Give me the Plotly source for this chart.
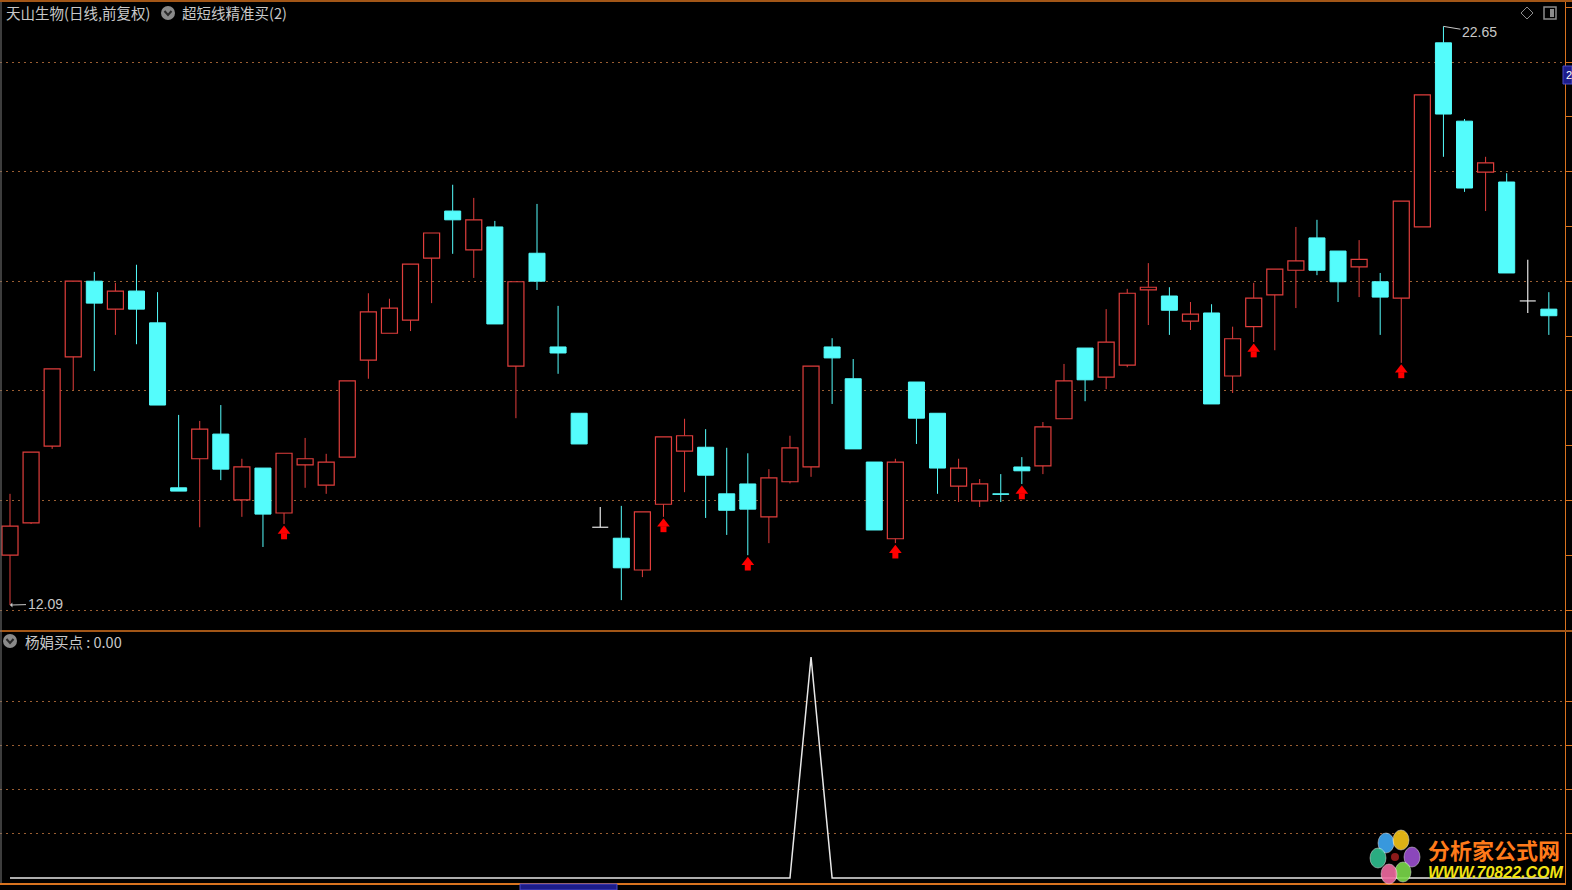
import plotly.graph_objects as go

# ---------------- data ----------------
opens = [13.00, 13.59, 14.99, 16.62, 18.00, 17.49, 17.82, 17.24, 14.23, 14.76,
         15.21, 14.01, 14.59, 13.77, 14.65, 14.28, 14.79, 16.56, 17.05, 17.29,
         18.42, 19.28, 18.57, 18.99, 16.45, 18.51, 16.80, 15.59, 13.51, 13.31,
         12.73, 13.93, 14.90, 14.97, 14.12, 14.30, 13.70, 14.34, 14.61, 16.80,
         16.22, 14.70, 13.30, 16.16, 15.59, 14.26, 13.99, 14.12, 14.61, 14.63,
         15.49, 16.78, 16.25, 16.47, 17.84, 17.73, 17.27, 17.42, 16.27, 17.17,
         17.75, 18.20, 18.79, 18.55, 18.26, 17.99, 17.69, 18.99, 22.35, 20.92,
         19.99, 19.81, 17.64, 17.49]
closes = [13.53, 14.88, 16.40, 18.00, 17.60, 17.82, 17.49, 15.74, 14.17, 15.30,
          14.57, 14.61, 13.75, 14.86, 14.76, 14.70, 16.18, 17.44, 17.51, 18.31,
          18.88, 19.12, 19.12, 17.22, 17.99, 18.00, 16.69, 15.03, 13.51, 12.77,
          13.79, 15.16, 15.18, 14.46, 13.82, 13.84, 14.41, 14.96, 16.45, 16.60,
          14.94, 13.46, 14.70, 15.50, 14.59, 14.59, 14.30, 14.11, 14.54, 15.34,
          16.18, 16.20, 16.89, 17.78, 17.89, 17.47, 17.40, 15.76, 16.95, 17.69,
          18.22, 18.37, 18.20, 17.99, 18.40, 17.71, 19.46, 21.40, 21.05, 19.70,
          20.16, 18.15, 17.64, 17.37]
highs = [14.12, 14.88, 16.40, 18.00, 18.17, 17.97, 18.30, 17.80, 15.56, 15.45,
         15.74, 14.76, 14.59, 14.86, 15.14, 14.85, 16.18, 17.78, 17.68, 18.31,
         18.88, 19.76, 19.52, 19.10, 17.99, 19.41, 17.55, 15.59, 13.88, 13.90,
         13.79, 15.16, 15.49, 15.30, 14.96, 14.86, 14.57, 15.18, 16.45, 16.96,
         16.58, 14.70, 14.76, 16.16, 15.59, 14.76, 14.39, 14.48, 14.79, 15.43,
         16.49, 16.78, 17.49, 17.86, 18.33, 17.89, 17.62, 17.58, 17.17, 17.97,
         18.22, 18.99, 19.12, 18.55, 18.75, 18.15, 19.46, 21.40, 22.65, 20.96,
         20.27, 19.97, 18.39, 17.80]
lows = [12.09, 13.57, 14.94, 16.01, 16.36, 17.02, 16.85, 15.74, 14.17, 13.51,
        14.37, 13.70, 13.15, 13.57, 14.23, 14.12, 14.79, 16.22, 17.05, 17.09,
        17.60, 18.50, 18.06, 17.22, 15.50, 17.84, 16.31, 15.03, 13.51, 12.18,
        12.60, 13.70, 14.15, 13.68, 13.37, 13.00, 13.22, 14.31, 14.43, 15.76,
        14.94, 13.46, 13.22, 15.03, 14.12, 13.97, 13.88, 13.97, 14.30, 14.48,
        15.49, 15.81, 16.03, 16.43, 17.20, 17.02, 17.11, 15.76, 15.96, 16.89,
        16.74, 17.51, 18.11, 17.62, 17.71, 17.02, 16.51, 18.99, 20.27, 19.63,
        19.28, 18.15, 17.42, 17.02]
buy_arrow_idx = [13, 31, 35, 42, 48, 59, 66]
signal = [0, 0, 0, 0, 0, 0, 0, 0, 0, 0,
          0, 0, 0, 0, 0, 0, 0, 0, 0, 0,
          0, 0, 0, 0, 0, 0, 0, 0, 0, 0,
          0, 0, 0, 0, 0, 0, 0, 0, 1, 0,
          0, 0, 0, 0, 0, 0, 0, 0, 0, 0,
          0, 0, 0, 0, 0, 0, 0, 0, 0, 0,
          0, 0, 0, 0, 0, 0, 0, 0, 0, 0,
          0, 0, 0, 0]
title_main = "天山生物(日线,前复权)"
title_ind = "超短线精准买(2)"
title_sub = "杨娟买点 : 0.00"
label_high = "22.65"
label_low = "12.09"

# ---------------- style ----------------
W, H = 1572, 890
RED = "#E03E3C"
CYAN = "#54FCFC"
WHITE = "#E6E6E6"
ORANGE = "#D9731F"
GRID = "#9A5E32"
TXT = "#C8C8C8"
BODY_W = 0.76


def px(x):
    return x / W


def py(y):
    return 1 - y / H


n = len(opens)
idx = list(range(n))
up = [i for i in idx if closes[i] > opens[i]]
dn = [i for i in idx if closes[i] < opens[i]]
dj = [i for i in idx if closes[i] == opens[i]]


def wicks(ids):
    xs, ys = [], []
    for i in ids:
        top = max(opens[i], closes[i])
        bot = min(opens[i], closes[i])
        if highs[i] > top:
            xs += [i, i, None]
            ys += [top, highs[i], None]
        if lows[i] < bot:
            xs += [i, i, None]
            ys += [lows[i], bot, None]
    return xs, ys


fig = go.Figure()

for ids, col in ((up, RED), (dn, CYAN)):
    wx, wy = wicks(ids)
    fig.add_trace(go.Scatter(x=wx, y=wy, mode="lines",
                             line=dict(color=col, width=1),
                             xaxis="x", yaxis="y"))

fig.add_trace(go.Bar(x=up, y=[closes[i] - opens[i] for i in up],
                     base=[opens[i] for i in up], width=BODY_W,
                     marker=dict(color="black", line=dict(color=RED, width=1.2)),
                     xaxis="x", yaxis="y"))
fig.add_trace(go.Bar(x=dn, y=[opens[i] - closes[i] for i in dn],
                     base=[closes[i] for i in dn], width=BODY_W,
                     marker=dict(color=CYAN, line=dict(color=CYAN, width=1)),
                     xaxis="x", yaxis="y"))

# doji candles (open == close)
dx, dy = [], []
for i in dj:
    dx += [i, i, None, i - BODY_W / 2, i + BODY_W / 2, None]
    dy += [lows[i], highs[i], None, opens[i], opens[i], None]
fig.add_trace(go.Scatter(x=dx, y=dy, mode="lines",
                         line=dict(color=WHITE, width=1.2),
                         xaxis="x", yaxis="y"))

# buy arrows
fig.add_trace(go.Scatter(x=buy_arrow_idx, y=[lows[i] - 0.128 for i in buy_arrow_idx],
                         mode="markers",
                         marker=dict(symbol="triangle-up", size=11, color="#FF0000"),
                         xaxis="x", yaxis="y"))
fig.add_trace(go.Scatter(x=buy_arrow_idx, y=[lows[i] - 0.225 for i in buy_arrow_idx],
                         mode="markers",
                         marker=dict(symbol="square", size=6, color="#FF0000"),
                         xaxis="x", yaxis="y"))

# indicator panel
fig.add_trace(go.Scatter(x=idx, y=signal, mode="lines",
                         line=dict(color="#E8E8E8", width=1.5),
                         xaxis="x2", yaxis="y2"))

# ---------------- axes ----------------
xr = [(0 - 10) / 21.08, (1565 - 10) / 21.08]
xdom = [0, 1565 / W]
y1_top, y1_bot = 2, 630
p_per_px = 1 / 54.8
yr1 = [12 - (y1_bot - 610) * p_per_px, 12 + (610 - y1_top) * p_per_px]
y2_top, y2_bot = 632, 883
y2_zero, y2_one = 878, 657
unit2 = y2_zero - y2_one
yr2 = [-(y2_bot - y2_zero) / unit2, 1 + (y2_one - y2_top) / unit2]

fig.update_layout(
    width=W, height=H,
    margin=dict(l=0, r=0, t=0, b=0),
    paper_bgcolor="black", plot_bgcolor="black",
    showlegend=False, hovermode=False, barmode="overlay",
    xaxis=dict(domain=xdom, range=xr, anchor="y", showgrid=False,
               zeroline=False, showticklabels=False, ticks=""),
    xaxis2=dict(domain=xdom, range=xr, anchor="y2", matches="x",
                showgrid=False, zeroline=False, showticklabels=False,
                ticks="", showline=True, linecolor=ORANGE, linewidth=1.5),
    yaxis=dict(domain=[py(y1_bot), py(y1_top)], range=yr1, anchor="x",
               side="right", showline=True, linecolor=ORANGE, linewidth=1,
               tick0=12, dtick=2, ticks="outside", ticklen=6, tickcolor=ORANGE,
               showticklabels=False, showgrid=True, gridcolor=GRID,
               griddash="2px,4px", gridwidth=1, zeroline=False,
               minor=dict(dtick=1, ticks="outside", ticklen=6,
                          tickcolor=ORANGE, showgrid=False)),
    yaxis2=dict(domain=[py(y2_bot), py(y2_top)], range=yr2, anchor="x2",
                side="right", showline=True, linecolor=ORANGE, linewidth=1,
                tickvals=[0.2, 0.4, 0.6, 0.8], ticks="outside", ticklen=6,
                tickcolor=ORANGE, showticklabels=False, showgrid=True,
                gridcolor=GRID, griddash="2px,4px", gridwidth=1,
                zeroline=False),
)

# ---------------- frame lines ----------------
shapes = [
    dict(type="line", xref="paper", yref="paper", x0=0, x1=1,
         y0=py(1), y1=py(1), line=dict(color=ORANGE, width=1.5)),
    dict(type="line", xref="paper", yref="paper", x0=0, x1=1,
         y0=py(631), y1=py(631), line=dict(color=ORANGE, width=1.5)),
    dict(type="line", xref="paper", yref="paper", x0=px(1), x1=px(1),
         y0=py(2), y1=py(883), line=dict(color="#7A7A7A", width=1)),
    # icons in title bars
    dict(type="circle", xref="paper", yref="paper", x0=px(161), x1=px(175),
         y0=py(6), y1=py(20), fillcolor="#8A8A8A", line=dict(width=0)),
    dict(type="path", xref="paper", yref="paper",
         path=f"M {px(164.5)} {py(11)} L {px(168)} {py(15)} L {px(171.5)} {py(11)}",
         line=dict(color="#2A2A2A", width=2)),
    dict(type="circle", xref="paper", yref="paper", x0=px(3), x1=px(17),
         y0=py(634), y1=py(648), fillcolor="#8A8A8A", line=dict(width=0)),
    dict(type="path", xref="paper", yref="paper",
         path=f"M {px(6.5)} {py(639)} L {px(10)} {py(643)} L {px(13.5)} {py(639)}",
         line=dict(color="#2A2A2A", width=2)),
    # top-right icons
    dict(type="path", xref="paper", yref="paper",
         path=(f"M {px(1527)} {py(7)} L {px(1533)} {py(13)} L {px(1527)} {py(19)} "
               f"L {px(1521)} {py(13)} Z"),
         line=dict(color="#8C8C8C", width=1)),
    dict(type="rect", xref="paper", yref="paper", x0=px(1544), x1=px(1556),
         y0=py(7), y1=py(19), line=dict(color="#8C8C8C", width=1.5)),
    dict(type="rect", xref="paper", yref="paper", x0=px(1550), x1=px(1554),
         y0=py(9), y1=py(17), fillcolor="#8C8C8C", line=dict(width=0)),
    # right-edge value box and bottom date box
    dict(type="rect", xref="paper", yref="paper", x0=px(1563), x1=px(1572),
         y0=py(66), y1=py(84), fillcolor="#1C1C8A", line=dict(color="#4A4AC8", width=1)),
    dict(type="rect", xref="paper", yref="paper", x0=px(520), x1=px(617),
         y0=py(884), y1=py(890), fillcolor="#1C1C8A", line=dict(color="#4A4AC8", width=1)),
]

# watermark flower
petals = [((1386, 843), "#3FA9F5"), ((1401, 840), "#F5C518"), ((1412, 857), "#9B4FD0"),
          ((1403, 872), "#7BD94A"), ((1389, 874), "#F06AA0"), ((1378, 858), "#2FBF8F")]
for (cx, cy), col in petals:
    shapes.append(dict(type="circle", xref="paper", yref="paper",
                       x0=px(cx - 8), x1=px(cx + 8), y0=py(cy - 10), y1=py(cy + 10),
                       fillcolor=col, line=dict(color="#FFFFFF", width=0.5),
                       opacity=0.9))
shapes.append(dict(type="circle", xref="paper", yref="paper",
                   x0=px(1391), x1=px(1399), y0=py(853), y1=py(861),
                   fillcolor="#8B1A1A", line=dict(width=0)))
fig.update_layout(shapes=shapes)

# ---------------- text ----------------
CJK = "Noto Sans CJK SC"
ann = [
    dict(text=title_main, x=px(4), y=py(13), xanchor="left", yanchor="middle",
         font=dict(family=CJK, size=14.5, color=TXT)),
    dict(text=title_ind, x=px(180), y=py(13), xanchor="left", yanchor="middle",
         font=dict(family=CJK, size=14.5, color=TXT)),
    dict(text=title_sub, x=px(23), y=py(641), xanchor="left", yanchor="middle",
         font=dict(family=CJK, size=14.5, color=TXT)),
    dict(text="分析家公式网", x=px(1426), y=py(849), xanchor="left", yanchor="middle",
         font=dict(family=CJK, size=22, color="#FF7A1A", weight="bold")),
    dict(text="WWW.70822.COM", x=px(1426), y=py(872), xanchor="left", yanchor="middle",
         font=dict(family="Liberation Sans", size=16, color="#F2E313",
                   weight="bold", style="italic")),
    dict(text="2", x=px(1564), y=py(75), xanchor="left", yanchor="middle",
         font=dict(family="Liberation Sans", size=11, color="white")),
]
for a in ann:
    a.update(xref="paper", yref="paper", showarrow=False)

ann.append(dict(text=label_high, x=68, y=highs[68], xref="x", yref="y",
                showarrow=True, arrowhead=0, arrowwidth=1, arrowcolor=TXT,
                ax=36, ay=6, font=dict(family="Liberation Sans", size=14, color=TXT)))
ann.append(dict(text=label_low, x=0, y=lows[0], xref="x", yref="y",
                showarrow=True, arrowhead=1, arrowsize=0.8, arrowwidth=1,
                arrowcolor=TXT, ax=35, ay=-1,
                font=dict(family="Liberation Sans", size=14, color=TXT)))
fig.update_layout(annotations=ann)

fig.write_html("out.html",
               config={"displayModeBar": False},
               post_script="document.body.style.margin='0px';"
                           "document.body.style.overflow='hidden';")
